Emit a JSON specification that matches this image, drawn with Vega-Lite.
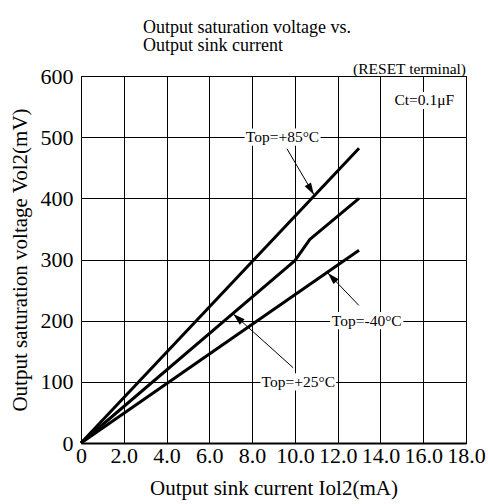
{
  "$schema": "https://vega.github.io/schema/vega-lite/v6.json",
  "autosize": "none",
  "width": 385,
  "height": 367,
  "padding": {"left": 81, "top": 76, "right": 22, "bottom": 61},
  "background": "white",
  "config": {
    "font": "Liberation Serif",
    "view": {"stroke": "black", "strokeWidth": 1},
    "axis": {
      "grid": true,
      "gridColor": "black",
      "gridOpacity": 1,
      "gridWidth": 1,
      "ticks": false,
      "domainColor": "black",
      "labelColor": "black",
      "labelFont": "Liberation Serif",
      "labelFontSize": 22,
      "labelOverlap": false,
      "labelFlush": false,
      "titleFont": "Liberation Serif",
      "titleFontSize": 21,
      "titleFontWeight": "normal",
      "titleColor": "black"
    }
  },
  "title": {
    "text": ["Output saturation voltage vs.", "Output sink current"],
    "font": "Liberation Serif",
    "fontSize": 18,
    "fontWeight": "normal",
    "color": "black",
    "anchor": "start",
    "frame": "group",
    "dx": 62,
    "lineHeight": 18,
    "offset": 7
  },
  "datasets": {
    "curves": [
      {"temp": "+85", "current": 0, "voltage": 0},
      {"temp": "+85", "current": 13, "voltage": 482},
      {"temp": "+25", "current": 0, "voltage": 0},
      {"temp": "+25", "current": 10, "voltage": 298},
      {"temp": "+25", "current": 10.7, "voltage": 333},
      {"temp": "+25", "current": 13, "voltage": 400},
      {"temp": "-40", "current": 0, "voltage": 0},
      {"temp": "-40", "current": 13, "voltage": 315}
    ],
    "labels": [
      {"text": "Top=+85°C", "x": 9.42, "y": 500, "x0": 7.65, "x1": 11.2, "y0": 486, "y1": 514},
      {"text": "Top=-40°C", "x": 13.36, "y": 200, "x0": 11.65, "x1": 15.07, "y0": 186, "y1": 214},
      {"text": "Top=+25°C", "x": 10.16, "y": 100, "x0": 8.39, "x1": 11.93, "y0": 86, "y1": 114},
      {"text": "Ct=0.1μF", "x": 16.05, "y": 560, "x0": 14.62, "x1": 17.48, "y0": 546, "y1": 574}
    ],
    "arrows": [
      {"temp": "+85", "x": 9.63, "y": 481, "x2": 10.89, "y2": 406},
      {"temp": "-40", "x": 12.99, "y": 225, "x2": 11.54, "y2": 278},
      {"temp": "+25", "x": 9.92, "y": 123, "x2": 7.12, "y2": 211}
    ],
    "notes": [
      {"text": "(RESET terminal)", "x": 18, "y": 604}
    ]
  },
  "layer": [
    {
      "data": {"name": "labels"},
      "mark": {"type": "rect", "fill": "white", "stroke": null},
      "encoding": {
        "x": {
          "field": "x0", "type": "quantitative",
          "scale": {"domain": [0, 18], "nice": false, "zero": false},
          "axis": {
            "title": "Output sink current Iol2(mA)",
            "values": [0, 2, 4, 6, 8, 10, 12, 14, 16, 18],
            "labelExpr": "datum.value == 0 ? '0' : format(datum.value, '.1f')",
            "domainWidth": 2,
            "labelPadding": 2,
            "titlePadding": 11
          }
        },
        "x2": {"field": "x1"},
        "y": {
          "field": "y0", "type": "quantitative",
          "scale": {"domain": [0, 600], "nice": false},
          "axis": {
            "title": "Output saturation voltage Vol2(mV)",
            "values": [0, 100, 200, 300, 400, 500, 600],
            "domain": false,
            "labelPadding": 8,
            "titlePadding": 10
          }
        },
        "y2": {"field": "y1"}
      }
    },
    {
      "data": {"name": "labels"},
      "mark": {"type": "text", "font": "Liberation Serif", "fontSize": 15.5, "color": "black", "align": "center", "baseline": "middle"},
      "encoding": {
        "x": {"field": "x", "type": "quantitative"},
        "y": {"field": "y", "type": "quantitative"},
        "text": {"field": "text"}
      }
    },
    {
      "data": {"name": "curves"},
      "mark": {"type": "line", "color": "black", "strokeWidth": 3, "strokeCap": "butt", "strokeJoin": "round"},
      "encoding": {
        "x": {"field": "current", "type": "quantitative"},
        "y": {"field": "voltage", "type": "quantitative"},
        "detail": {"field": "temp"}
      }
    },
    {
      "data": {"name": "arrows"},
      "mark": {"type": "rule", "color": "black", "strokeWidth": 1},
      "encoding": {
        "x": {"field": "x", "type": "quantitative"},
        "y": {"field": "y", "type": "quantitative"},
        "x2": {"field": "x2"},
        "y2": {"field": "y2"}
      }
    },
    {
      "data": {"name": "arrows"},
      "transform": [{"filter": "datum.temp == '+85'"}],
      "mark": {"type": "point", "shape": "M0,0L-0.3,1L0.3,1Z", "filled": true, "color": "black", "opacity": 1, "size": 576, "angle": 149.6},
      "encoding": {
        "x": {"field": "x2", "type": "quantitative"},
        "y": {"field": "y2", "type": "quantitative"}
      }
    },
    {
      "data": {"name": "arrows"},
      "transform": [{"filter": "datum.temp == '-40'"}],
      "mark": {"type": "point", "shape": "M0,0L-0.3,1L0.3,1Z", "filled": true, "color": "black", "opacity": 1, "size": 576, "angle": 316.3},
      "encoding": {
        "x": {"field": "x2", "type": "quantitative"},
        "y": {"field": "y2", "type": "quantitative"}
      }
    },
    {
      "data": {"name": "arrows"},
      "transform": [{"filter": "datum.temp == '+25'"}],
      "mark": {"type": "point", "shape": "M0,0L-0.3,1L0.3,1Z", "filled": true, "color": "black", "opacity": 1, "size": 576, "angle": 312},
      "encoding": {
        "x": {"field": "x2", "type": "quantitative"},
        "y": {"field": "y2", "type": "quantitative"}
      }
    },
    {
      "data": {"name": "notes"},
      "mark": {"type": "text", "font": "Liberation Serif", "fontSize": 15.5, "color": "black", "align": "right", "baseline": "alphabetic"},
      "encoding": {
        "x": {"field": "x", "type": "quantitative"},
        "y": {"field": "y", "type": "quantitative"},
        "text": {"field": "text"}
      }
    }
  ]
}
